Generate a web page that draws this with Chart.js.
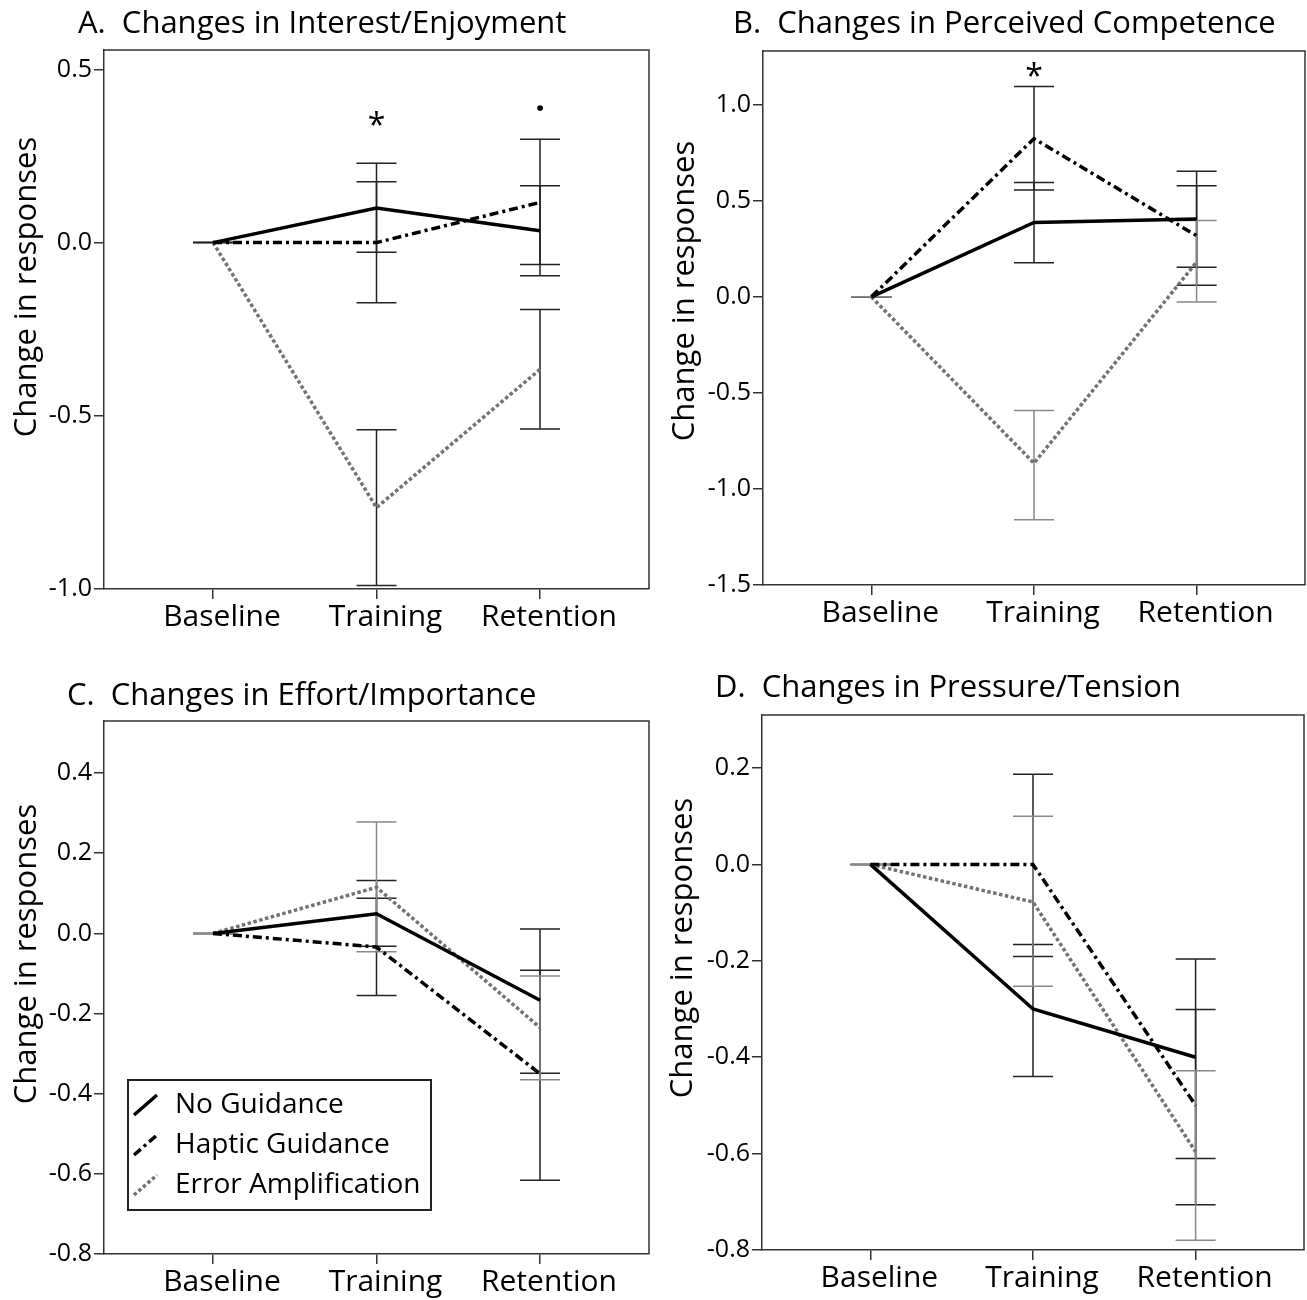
<!DOCTYPE html>
<html lang="en">
<head>
<meta charset="UTF-8">
<title>Changes in IMI subscale responses</title>
<script src="https://cdn.jsdelivr.net/npm/chart.js"></script>
<style>
  body { margin: 0; background: #fff; }
  #wrap { position: relative; width: 1307px; height: 1300px; }
  #wrap canvas { position: absolute; }
</style>
</head>
<body>
<div id="wrap">
  <canvas id="panelA" width="653" height="650" style="left:0;top:0"></canvas>
  <canvas id="panelB" width="654" height="650" style="left:653px;top:0"></canvas>
  <canvas id="panelC" width="653" height="650" style="left:0;top:650px"></canvas>
  <canvas id="panelD" width="654" height="650" style="left:653px;top:650px"></canvas>
</div>
<script>
const categories = ['Baseline', 'Training', 'Retention'];
const groups = ['No Guidance', 'Haptic Guidance', 'Error Amplification'];

// A. Interest/Enjoyment
const noGuideA   = [0, 0.100, 0.034];
const noGuideALo = [0, -0.028, -0.096];
const noGuideAHi = [0, 0.229, 0.164];
const hapticA    = [0, 0.000, 0.116];
const hapticALo  = [0, -0.174, -0.063];
const hapticAHi  = [0, 0.176, 0.298];
const errAmpA    = [0, -0.765, -0.366];
const errAmpALo  = [0, -0.990, -0.538];
const errAmpAHi  = [0, -0.540, -0.193];
const ticksA = [-1.0, -0.5, 0.0, 0.5];
const notesA = [{x: 2, y: 0.335, text: '*'}, {x: 3, y: 0.383, text: '·'}];

// B. Perceived Competence
const noGuideB   = [0, 0.387, 0.405];
const noGuideBLo = [0, 0.177, 0.154];
const noGuideBHi = [0, 0.596, 0.654];
const hapticB    = [0, 0.824, 0.318];
const hapticBLo  = [0, 0.556, 0.060];
const hapticBHi  = [0, 1.095, 0.578];
const errAmpB    = [0, -0.866, 0.181];
const errAmpBLo  = [0, -1.160, -0.027];
const errAmpBHi  = [0, -0.591, 0.397];
const ticksB = [-1.5, -1.0, -0.5, 0.0, 0.5, 1.0];
const notesB = [{x: 2, y: 1.14, text: '*'}];

// C. Effort/Importance
const noGuideC   = [0, 0.049, -0.167];
const noGuideCLo = [0, -0.032, -0.349];
const noGuideCHi = [0, 0.132, 0.011];
const hapticC    = [0, -0.034, -0.350];
const hapticCLo  = [0, -0.155, -0.616];
const hapticCHi  = [0, 0.088, -0.092];
const errAmpC    = [0, 0.115, -0.235];
const errAmpCLo  = [0, -0.046, -0.365];
const errAmpCHi  = [0, 0.278, -0.106];
const ticksC = [-0.8, -0.6, -0.4, -0.2, 0.0, 0.2, 0.4];

// D. Pressure/Tension
const noGuideD   = [0, -0.300, -0.400];
const noGuideDLo = [0, -0.440, -0.610];
const noGuideDHi = [0, -0.166, -0.196];
const hapticD    = [0, 0.000, -0.500];
const hapticDLo  = [0, -0.191, -0.706];
const hapticDHi  = [0, 0.187, -0.301];
const errAmpD    = [0, -0.078, -0.596];
const errAmpDLo  = [0, -0.253, -0.780];
const errAmpDHi  = [0, 0.100, -0.428];
const ticksD = [-0.8, -0.6, -0.4, -0.2, 0.0, 0.2];

const FONT = 'Open Sans';
const AXIS = '#333';

const lineStyles = [
  {color: '#000', dash: [], width: 3.5},
  {color: '#000', dash: [9, 4, 3, 4], width: 3.5},
  {color: '#727272', dash: [3.5, 2.5], width: 3.5}
];

// frame, error bars, titles, notes and legend
const panelDecor = {
  id: 'panelDecor',
  beforeDatasetsDraw(chart) {
    const {ctx, chartArea: a, scales: {x, y}} = chart;
    ctx.save();
    ctx.strokeStyle = AXIS;
    ctx.lineWidth = 1.5;
    ctx.beginPath();
    ctx.moveTo(a.left, a.top);
    ctx.lineTo(a.right, a.top);
    ctx.lineTo(a.right, a.bottom);
    ctx.stroke();
    chart.data.datasets.forEach(ds => {
      ctx.strokeStyle = ds.errColor;
      ctx.lineWidth = 1.5;
      ds.data.forEach((p, i) => {
        const px = x.getPixelForValue(p.x);
        const lo = y.getPixelForValue(ds.errLo[i]);
        const hi = y.getPixelForValue(ds.errHi[i]);
        ctx.beginPath();
        ctx.moveTo(px, lo); ctx.lineTo(px, hi);
        ctx.moveTo(px - 20, lo); ctx.lineTo(px + 20, lo);
        ctx.moveTo(px - 20, hi); ctx.lineTo(px + 20, hi);
        ctx.stroke();
      });
    });
    ctx.restore();
  },
  afterDraw(chart, args, o) {
    const {ctx, scales: {x, y}} = chart;
    ctx.save();
    ctx.fillStyle = '#000';
    ctx.textBaseline = 'middle';

    ctx.font = `31px "${FONT}"`;
    ctx.textAlign = 'left';
    ctx.fillText(o.title, o.titleX, o.titleY);

    ctx.save();
    ctx.font = `31px "${FONT}"`;
    ctx.textAlign = 'center';
    ctx.translate(o.yTitleX, o.yTitleY);
    ctx.rotate(-Math.PI / 2);
    ctx.fillText('Change in responses', 0, 0);
    ctx.restore();

    ctx.textAlign = 'center';
    (o.notes || []).forEach(n => {
      ctx.font = n.text === '*' ? `32px "${FONT}"` : `bold 34px "${FONT}"`;
      ctx.fillText(n.text, x.getPixelForValue(n.x), y.getPixelForValue(n.y));
    });

    if (o.legend) {
      const L = o.legend;
      ctx.strokeStyle = '#222';
      ctx.lineWidth = 2;
      ctx.strokeRect(L.left, L.top, L.width, L.height);
      ctx.font = `28px "${FONT}"`;
      ctx.textAlign = 'left';
      chart.data.datasets.forEach((ds, i) => {
        const cy = L.top + L.firstRow + i * L.rowGap;
        ctx.strokeStyle = ds.borderColor;
        ctx.lineWidth = ds.borderWidth;
        ctx.setLineDash(ds.borderDash);
        ctx.beginPath();
        ctx.moveTo(L.left + 6, cy + 10);
        ctx.lineTo(L.left + 29, cy - 10);
        ctx.stroke();
        ctx.setLineDash([]);
        ctx.fillText(ds.label, L.left + 47, cy);
      });
    }
    ctx.restore();
  }
};

function makePanel(id, p) {
  const series = [
    [p.noGuide, p.noGuideLo, p.noGuideHi],
    [p.haptic, p.hapticLo, p.hapticHi],
    [p.errAmp, p.errAmpLo, p.errAmpHi]
  ];
  const datasets = series.map((s, k) => ({
    label: groups[k],
    data: s[0].map((v, i) => ({x: i + 1, y: v})),
    errLo: s[1],
    errHi: s[2],
    errColor: p.errColors[k],
    borderColor: lineStyles[k].color,
    borderDash: lineStyles[k].dash,
    borderWidth: lineStyles[k].width,
    borderCapStyle: 'butt',
    pointRadius: 0,
    tension: 0,
    fill: false
  }));

  new Chart(document.getElementById(id), {
    type: 'line',
    data: {datasets},
    options: {
      responsive: false,
      animation: false,
      events: [],
      layout: {padding: {left: 0, right: p.padRight, top: p.padTop, bottom: 0}},
      plugins: {
        legend: {display: false},
        tooltip: {enabled: false},
        panelDecor: {
          title: p.title, titleX: p.titleX, titleY: p.titleY,
          yTitleX: p.yTitleX, yTitleY: p.yTitleY,
          notes: p.notes, legend: p.legend
        }
      },
      scales: {
        x: {
          type: 'linear',
          min: 1 / 3,
          max: 11 / 3,
          afterBuildTicks: s => { s.ticks = categories.map((c, i) => ({value: i + 1})); },
          afterFit: s => { s.height = p.xAxisHeight; },
          grid: {drawOnChartArea: false, tickLength: 10, color: AXIS, lineWidth: 1.5},
          border: {color: AXIS, width: 1.5},
          ticks: {
            color: '#000',
            font: {family: FONT, size: 30},
            padding: 0,
            labelOffset: 9,
            maxRotation: 0,
            autoSkip: false,
            callback: v => categories[Math.round(v) - 1]
          }
        },
        y: {
          type: 'linear',
          min: p.yMin,
          max: p.yMax,
          afterBuildTicks: s => { s.ticks = p.yTicks.map(v => ({value: v})); },
          afterFit: s => { s.width = p.yAxisWidth; },
          grid: {drawOnChartArea: false, tickLength: 10, color: AXIS, lineWidth: 1.5},
          border: {color: AXIS, width: 1.5},
          ticks: {
            color: '#000',
            font: {family: FONT, size: 25},
            padding: 2,
            callback: v => v.toFixed(1)
          }
        }
      }
    },
    plugins: [panelDecor]
  });
}

makePanel('panelA', {
  title: 'A.  Changes in Interest/Enjoyment', titleX: 78, titleY: 24,
  yTitleX: 27, yTitleY: 287,
  noGuide: noGuideA, noGuideLo: noGuideALo, noGuideHi: noGuideAHi,
  haptic: hapticA, hapticLo: hapticALo, hapticHi: hapticAHi,
  errAmp: errAmpA, errAmpLo: errAmpALo, errAmpHi: errAmpAHi,
  errColors: ['#222', '#222', '#222'],
  yMin: -1.0, yMax: 0.556, yTicks: ticksA, notes: notesA,
  padTop: 50, padRight: 4, yAxisWidth: 104, xAxisHeight: 61
});

makePanel('panelB', {
  title: 'B.  Changes in Perceived Competence', titleX: 80, titleY: 24,
  yTitleX: 32, yTitleY: 291,
  noGuide: noGuideB, noGuideLo: noGuideBLo, noGuideHi: noGuideBHi,
  haptic: hapticB, hapticLo: hapticBLo, hapticHi: hapticBHi,
  errAmp: errAmpB, errAmpLo: errAmpBLo, errAmpHi: errAmpBHi,
  errColors: ['#222', '#222', '#888'],
  yMin: -1.5, yMax: 1.28, yTicks: ticksB, notes: notesB,
  padTop: 51, padRight: 2, yAxisWidth: 110, xAxisHeight: 65
});

makePanel('panelC', {
  title: 'C.  Changes in Effort/Importance', titleX: 67, titleY: 46,
  yTitleX: 27, yTitleY: 304,
  noGuide: noGuideC, noGuideLo: noGuideCLo, noGuideHi: noGuideCHi,
  haptic: hapticC, hapticLo: hapticCLo, hapticHi: hapticCHi,
  errAmp: errAmpC, errAmpLo: errAmpCLo, errAmpHi: errAmpCHi,
  errColors: ['#222', '#222', '#888'],
  yMin: -0.8, yMax: 0.53, yTicks: ticksC,
  legend: {left: 128, top: 430, width: 303, height: 130, firstRow: 25, rowGap: 40},
  padTop: 71, padRight: 4, yAxisWidth: 104, xAxisHeight: 46
});

makePanel('panelD', {
  title: 'D.  Changes in Pressure/Tension', titleX: 62, titleY: 38,
  yTitleX: 30, yTitleY: 298,
  noGuide: noGuideD, noGuideLo: noGuideDLo, noGuideHi: noGuideDHi,
  haptic: hapticD, hapticLo: hapticDLo, hapticHi: hapticDHi,
  errAmp: errAmpD, errAmpLo: errAmpDLo, errAmpHi: errAmpDHi,
  errColors: ['#222', '#222', '#888'],
  yMin: -0.8, yMax: 0.31, yTicks: ticksD,
  padTop: 65, padRight: 3, yAxisWidth: 109, xAxisHeight: 50
});
</script>
</body>
</html>
